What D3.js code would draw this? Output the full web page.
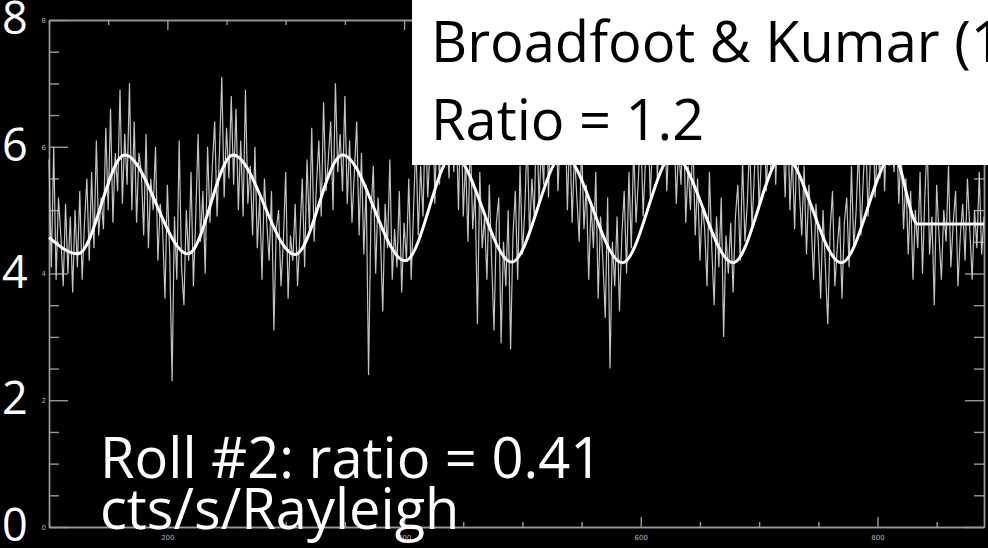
<!DOCTYPE html>
<html>
<head>
<meta charset="utf-8">
<script src="https://cdn.jsdelivr.net/npm/d3@7"></script>
<style>
  html, body { margin: 0; padding: 0; background: #000; }
  svg { display: block; }
  .frame path, .frame line { stroke: #9a9a9a; stroke-width: 1.4; }
  .frame text { fill: #b0b0b0; font-family: 'DejaVu Sans', sans-serif; font-size: 7px; }
  .big { fill: #fff; font-family: 'Open Sans', sans-serif; }
</style>
</head>
<body>
<svg id="svg" width="988" height="548"></svg>
<script>
const X_START = 100
const X_END = 890
const Y_TICKS = [0, 2, 4, 6, 8]
const X_TICKS = [200, 400, 600, 800]
const X_MINOR = [100, 150, 250, 300, 350, 450, 500, 550, 650, 700, 750, 850]
const Y_MINOR = [0.5, 1, 1.5, 2.5, 3, 3.5, 4.5, 5, 5.5, 6.5, 7, 7.5]

// raw count rate, one sample every 2 units
const counts = [
  5.8, 4.1, 6.0, 3.9, 5.2, 4.6, 3.8, 5.1, 4.0, 4.9, 3.7, 5.0,
  4.1, 5.3, 3.9, 4.8, 5.5, 4.2, 5.6, 4.4, 6.1, 4.6, 5.2, 4.7, 6.3, 5.0, 6.6, 4.8, 5.9, 5.3, 6.9, 5.1,
  6.2, 5.4, 7.0, 5.0, 6.4, 4.8, 5.9, 5.6, 4.6, 6.2, 4.4, 5.5, 5.0, 6.0, 4.2, 5.1, 4.7, 3.6, 5.4, 4.3,
  2.3, 4.9, 3.9, 6.1, 4.1, 3.5, 5.0,
  4.2, 5.6, 3.8, 4.9, 6.2, 4.5, 5.3, 4.0, 6.0, 4.8, 5.7, 6.4, 4.9, 5.9, 7.1, 5.2, 6.3, 5.5, 6.8,
  5.4, 6.6, 5.0, 6.1, 4.9, 6.9, 5.1, 5.7, 4.6, 6.0, 4.4, 5.2, 3.9, 5.5, 4.8, 4.2, 5.3, 3.1, 4.7, 5.0,
  3.8, 4.5, 5.6, 3.6, 4.6, 4.2,
  5.1, 3.8, 4.6, 5.5, 4.1, 5.8, 4.7, 6.3, 4.5, 5.4, 6.1, 4.9, 6.7, 5.3, 5.8, 6.4, 5.0, 7.0, 5.6, 6.2,
  5.3, 6.8, 5.1, 6.1, 4.8, 5.6, 6.4, 4.6, 5.9, 4.3, 5.4, 2.4, 4.9, 5.7, 4.0, 5.2, 4.6, 3.4, 5.1, 4.4,
  5.8, 3.9, 4.7, 4.1, 5.3, 3.7,
  4.8, 4.2, 5.5, 3.9, 5.0, 6.1, 4.6, 5.7, 4.9, 6.5, 5.2, 6.0, 7.2, 5.1, 6.6, 5.4, 7.5, 5.8, 6.3, 5.5, 6.9,
  5.6, 6.4, 5.0, 6.8, 4.9, 5.8, 4.5, 6.2, 4.7, 5.3, 3.2, 5.6, 4.4, 4.9, 3.9, 5.4, 4.2, 3.1, 4.8, 5.2,
  2.9, 4.5, 3.8, 5.0,
  2.8, 4.6, 5.3, 3.9, 5.7, 4.3, 5.0, 6.2, 4.6, 5.5, 4.9, 6.6, 5.1, 6.0, 5.4, 7.1, 5.2, 6.4, 5.7, 6.9,
  5.3, 6.2,
  5.8, 6.7, 5.0, 6.3, 4.8, 5.9, 5.2, 4.5, 6.1, 4.7, 5.4, 3.9, 5.1, 4.4, 5.6, 3.6, 4.9, 4.2, 3.3, 5.2,
  2.5, 4.5, 3.8, 4.9, 3.4,
  4.6, 5.3, 4.0, 5.6, 4.4, 6.0, 4.8, 5.5, 6.3, 4.9, 5.8, 6.6, 5.2, 6.1, 7.0, 5.5, 6.4, 5.7, 6.8, 5.3,
  6.2, 5.9,
  6.5, 5.1, 6.0, 5.4, 6.7, 4.8, 5.7, 5.0, 6.2, 4.6, 5.5, 4.2, 5.1, 4.7, 3.8, 5.6, 4.4, 3.5, 4.9, 4.1,
  5.2, 3.0, 4.6, 4.0, 4.8,
  3.7, 4.9, 5.4, 4.2, 5.8, 4.5, 5.1, 6.1, 4.7, 5.6, 6.4, 5.0, 5.9, 6.8, 5.3, 6.2, 5.6, 7.0, 5.4, 6.5,
  5.8,
  6.3, 5.2, 6.7, 5.0, 5.9, 4.7, 6.2, 5.3, 4.6, 5.7, 4.3, 5.4, 4.8, 3.9, 5.1, 4.5, 3.6, 5.0, 4.1, 3.2,
  4.7, 5.3, 3.8, 4.4, 4.9,
  3.6, 4.8, 5.2, 4.1, 5.7, 4.4, 5.0, 6.0, 4.6, 5.5, 6.3, 4.9, 5.8, 6.6, 5.2, 6.1, 5.5, 6.9, 5.3, 6.4,
  5.7, 6.2,
  5.6, 6.5, 5.1, 6.0, 4.7, 5.5, 4.3, 5.3, 3.9, 5.0,
  4.4, 5.6, 4.0, 5.2, 6.1, 4.3, 4.9, 3.5, 5.4, 4.6, 3.9, 5.0, 4.5, 5.7, 4.1, 4.8, 5.3, 3.8, 4.6, 5.1,
  4.2, 5.5, 4.7, 3.9, 5.0, 4.4, 5.6, 4.3, 4.9
]

// fitted model: extrema
const fitX = [100, 124.5, 164, 217.5, 255.5, 308, 348, 401, 441.5, 491, 534.5, 584.5, 627.5, 678, 720.5, 769.5, 813.5, 834, 890]
const fitY = [4.57, 4.31, 5.87, 4.31, 5.87, 4.3, 5.87, 4.2, 5.87, 4.18, 5.87, 4.17, 5.87, 4.17, 5.87, 4.17, 5.87, 4.78, 4.78]

const boxLines = ['Broadfoot & Kumar (1978)', 'Ratio = 1.2']
const noteLines = ['Roll #2: ratio = 0.41', 'cts/s/Rayleigh']

const W = 988
const H = 548
const svg = d3.select('svg')

const x = d3.scaleLinear().domain([X_START, X_END]).range([49, 984])
const y = d3.scaleLinear().domain([0, 8]).range([527, 20])

svg.append('rect').attr('width', W).attr('height', H).attr('fill', '#000')

// frame with ticks on all four sides
const fr = svg.append('g').attr('class', 'frame')
fr.append('g').attr('transform', 'translate(0,' + y(0) + ')')
  .call(d3.axisBottom(x).tickValues(X_TICKS).tickSizeInner(-10).tickSizeOuter(0).tickPadding(8))
fr.append('g').attr('transform', 'translate(0,' + y(0) + ')')
  .call(d3.axisBottom(x).tickValues(X_MINOR).tickSizeInner(-5).tickSizeOuter(0).tickFormat(''))
fr.append('g').attr('transform', 'translate(0,' + y(8) + ')')
  .call(d3.axisTop(x).tickValues(X_TICKS).tickSizeInner(-10).tickSizeOuter(0).tickFormat(''))
fr.append('g').attr('transform', 'translate(0,' + y(8) + ')')
  .call(d3.axisTop(x).tickValues(X_MINOR).tickSizeInner(-5).tickSizeOuter(0).tickFormat(''))
fr.append('g').attr('transform', 'translate(' + x(X_START) + ',0)')
  .call(d3.axisLeft(y).tickValues(Y_TICKS).tickSizeInner(-19).tickSizeOuter(0).tickPadding(3))
fr.append('g').attr('transform', 'translate(' + x(X_START) + ',0)')
  .call(d3.axisLeft(y).tickValues(Y_MINOR).tickSizeInner(-10).tickSizeOuter(0).tickFormat(''))
fr.append('g').attr('transform', 'translate(' + x(X_END) + ',0)')
  .call(d3.axisRight(y).tickValues(Y_TICKS).tickSizeInner(-19).tickSizeOuter(0).tickFormat(''))
fr.append('g').attr('transform', 'translate(' + x(X_END) + ',0)')
  .call(d3.axisRight(y).tickValues(Y_MINOR).tickSizeInner(-10).tickSizeOuter(0).tickFormat(''))

const step = (X_END - X_START) / (counts.length - 1)
const raw = d3.line()
  .x((d, i) => x(X_START + i * step))
  .y(d => y(d))

svg.append('path')
  .datum(counts)
  .attr('d', raw)
  .attr('fill', 'none')
  .attr('stroke', '#c4c4c4')
  .attr('stroke-width', 1.2)

const fit = d3.line()
  .x(d => x(d[0]))
  .y(d => y(d[1]))
  .curve(d3.curveMonotoneX)

svg.append('path')
  .datum(d3.zip(fitX, fitY))
  .attr('d', fit)
  .attr('fill', 'none')
  .attr('stroke', '#fff')
  .attr('stroke-width', 3)

// big axis numbers pasted over the left edge
svg.selectAll('text.ynum')
  .data(Y_TICKS)
  .join('text')
  .attr('class', 'big ynum')
  .attr('x', 2)
  .attr('y', d => y(d) + 14)
  .attr('font-size', 45)
  .text(d => d)

// white reference box
svg.append('rect')
  .attr('x', 412).attr('y', 0)
  .attr('width', W - 412).attr('height', 165)
  .attr('fill', '#fff')

svg.selectAll('text.box')
  .data(boxLines)
  .join('text')
  .attr('class', 'big box')
  .attr('x', 431)
  .attr('y', (d, i) => 62 + i * 78)
  .attr('font-size', 56)
  .style('fill', '#000')
  .text(d => d)

svg.selectAll('text.note')
  .data(noteLines)
  .join('text')
  .attr('class', 'big note')
  .attr('x', 100)
  .attr('y', (d, i) => 478 + i * 51)
  .attr('font-size', 56)
  .text(d => d)
</script>
</body>
</html>
